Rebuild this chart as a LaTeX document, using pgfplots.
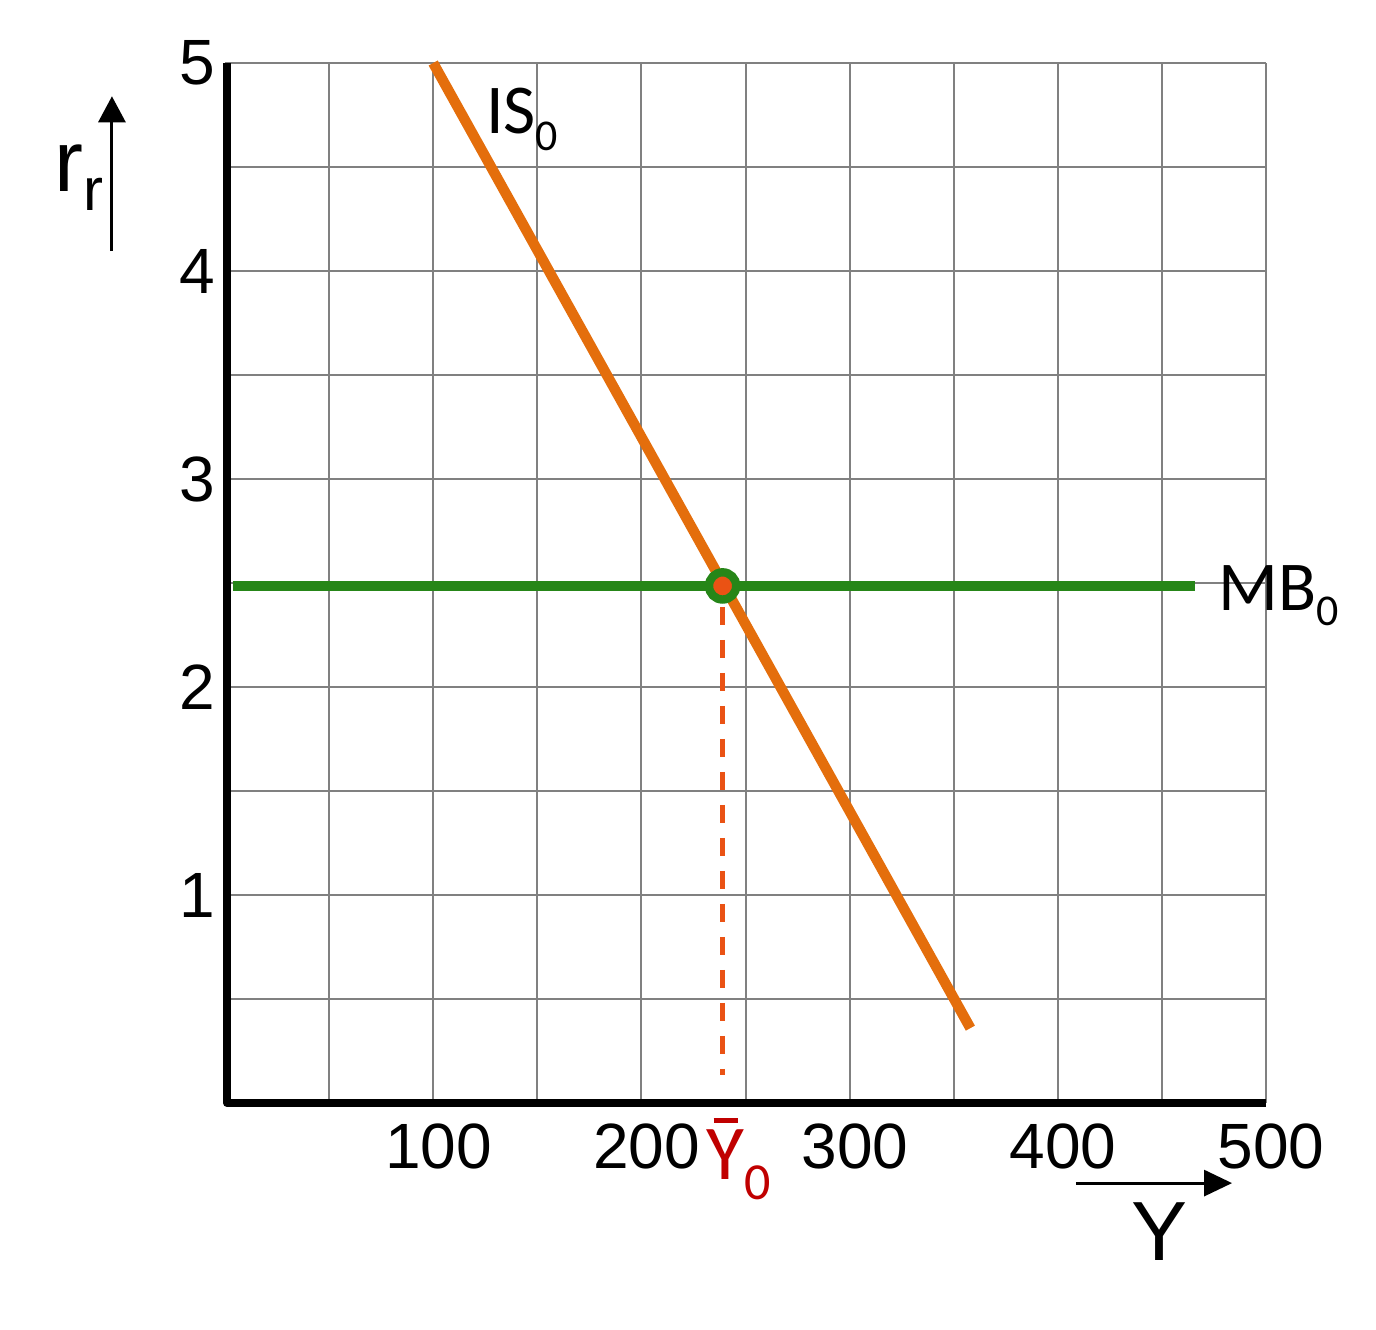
\documentclass[border=0pt]{standalone}
\usepackage{pgfplots}
\pgfplotsset{compat=1.18}
\usepackage{fontspec}
\setmainfont{Liberation Sans}
\newfontfamily\calibri{Carlito}
\usetikzlibrary{arrows.meta}
\definecolor{isorange}{RGB}{228,110,12}
\definecolor{mbgreen}{RGB}{38,134,24}
\definecolor{dashred}{RGB}{234,82,20}
\definecolor{ybar}{RGB}{192,0,0}
\definecolor{gridgray}{RGB}{128,128,128}
\begin{document}
\begin{tikzpicture}
\path[use as bounding box] (-56.25pt,-56.5pt) rectangle (287.75pt,275.75pt);
\begin{axis}[
 at={(0,0)}, anchor=south west,
 scale only axis, width=260.25pt, height=260pt,
 xmin=0,xmax=500,ymin=0,ymax=5,
 clip=false,
 axis line style={draw=none},
 xtick={100,200,300,400,500},
 minor xtick={50,150,250,350,450},
 ytick={1,2,3,4,5},
 minor ytick={0.5,1.5,2.5,3.5,4.5},
 major tick length=0pt, minor tick length=0pt,
 grid=both,
 major grid style={draw=gridgray,line width=0.5pt},
 minor grid style={draw=gridgray,line width=0.5pt},
 tick label style={font=\fontsize{16}{16}\selectfont},
 /pgf/number format/assume math mode=true,
 xticklabel style={inner sep=0pt,yshift=-5pt,xshift=1.3pt},
 yticklabel style={inner sep=0pt,xshift=-2.3pt},
]
\addplot[isorange, line width=2.6pt] coordinates {(100,5) (358,0.36)};
\addplot[mbgreen, line width=2.5pt] coordinates {(4,2.486) (466,2.486)};
\addplot[dashred, line width=1.1pt, dash pattern=on 4.5pt off 3.75pt] coordinates {(239,2.385) (239,0.135)};
\addplot[only marks, mark=*, mark size=3.4pt, mark options={draw=mbgreen, fill=dashred, line width=2.1pt}] coordinates {(239,2.486)};
\draw[black, line width=2pt, line join=round] (axis cs:1,5) -- (axis cs:1,0) -- (axis cs:500,0);
\node[anchor=base west, inner sep=0pt, font=\calibri\fontsize{17.5}{17.5}\selectfont] at (axis cs:125,4.66) {IS\raisebox{-4.25pt}{\fontsize{11}{11}\selectfont 0}};
\node[anchor=base west, inner sep=0pt, font=\calibri\fontsize{17.5}{17.5}\selectfont] at (axis cs:477,2.37) {MB\raisebox{-3.75pt}{\fontsize{11}{11}\selectfont 0}};
\node[anchor=base west, inner sep=0pt, text=ybar, font=\calibri\fontsize{19.4}{19.4}\selectfont] at (axis cs:231,-0.37) {\makebox[0pt][l]{\hspace{1.75pt}\rule[14.25pt]{6pt}{1.25pt}}Y\raisebox{-5pt}{\fontsize{13}{13}\selectfont 0}};
\node[anchor=base, inner sep=0pt, font=\fontsize{21}{21}\selectfont] at (axis cs:449,-0.755) {Y};
\draw[line width=0.75pt, -{Triangle[length=7pt,width=6.5pt]}] (axis cs:408.7,-0.385) -- (axis cs:483.7,-0.385);
\draw[line width=0.75pt, -{Triangle[length=6.5pt,width=6.75pt]}] (axis cs:-54.3,4.096) -- (axis cs:-54.3,4.84);
\node[anchor=base west, inner sep=0pt, font=\fontsize{21.7}{21.7}\selectfont] at (axis cs:-82.1,4.38) {r\raisebox{-4.75pt}{\fontsize{15}{15}\selectfont r}};
\end{axis}
\end{tikzpicture}
\end{document}
